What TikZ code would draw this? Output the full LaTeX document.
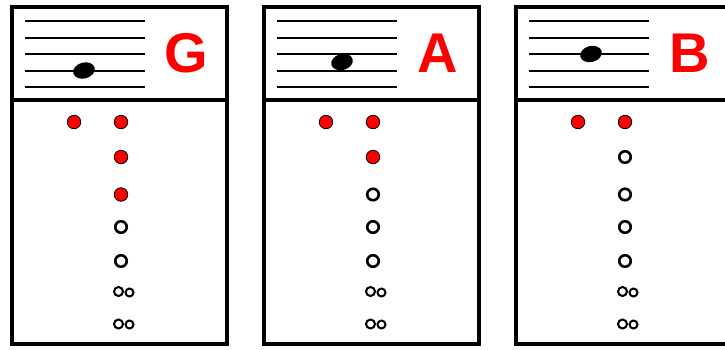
\documentclass[tikz,border=0pt]{standalone}
\usepackage{fontspec}
\setmainfont{Liberation Sans}
\usetikzlibrary{shapes.geometric}

\tikzset{
    frame/.style={line width=4pt},
    staffline/.style={line width=2pt},
    notehead/.style={ellipse, fill=black, minimum width=22pt, minimum height=16pt, inner sep=0pt, rotate=15},
    pitch/.style={text=red, font=\fontsize{56}{56}\selectfont\bfseries, inner sep=0pt},
    closed/.style={circle, fill=red, draw=black, line width=0.8pt, minimum size=13.5pt, inner sep=0pt},
    open/.style={circle, fill=white, draw=black, line width=2.6pt, minimum size=11.5pt, inner sep=0pt},
    twin/.style={circle, fill=white, draw=black, line width=2pt, minimum size=#1, inner sep=0pt},
}

\begin{document}
\begin{tikzpicture}[x=1pt, y=-1pt]
    \useasboundingbox (0,0) rectangle (725,349);

    \foreach \px/\nm/\ny/\nx/\nred in {12/G/70.5/72/3, 264/A/62/78/2, 516/B/54/75/1} {
        % box and staff
        \draw[frame] (\px,7) rectangle ++(215,337);
        \draw[frame] (\px,100) -- ++(215,0);
        \foreach \ly in {21,37.5,54,70.5,87}
            \draw[staffline] (\px+13,\ly) -- (\px+133,\ly);
        \node[notehead] (\nm-note) at (\px+\nx,\ny) {};
        \node[pitch] (\nm-name) at (\px+174,53) {\nm};

        % fingering
        \node[closed] (\nm-thumb) at (\px+62,122) {};
        \foreach \i/\hy in {1/122, 2/157, 3/194.5, 4/227, 5/261} {
            \ifnum\i>\nred \def\hs{open}\else\def\hs{closed}\fi
            \node[\hs] (\nm-h\i) at (\px+109,\hy) {};
        }
        \node[twin=9pt] (\nm-h6a) at (\px+106.5,291.5) {};
        \node[twin=8pt] (\nm-h6b) at (\px+117.5,292.5) {};
        \node[twin=9pt] (\nm-h7a) at (\px+106.5,324) {};
        \node[twin=8pt] (\nm-h7b) at (\px+117.5,324.5) {};
    }
\end{tikzpicture}
\end{document}
